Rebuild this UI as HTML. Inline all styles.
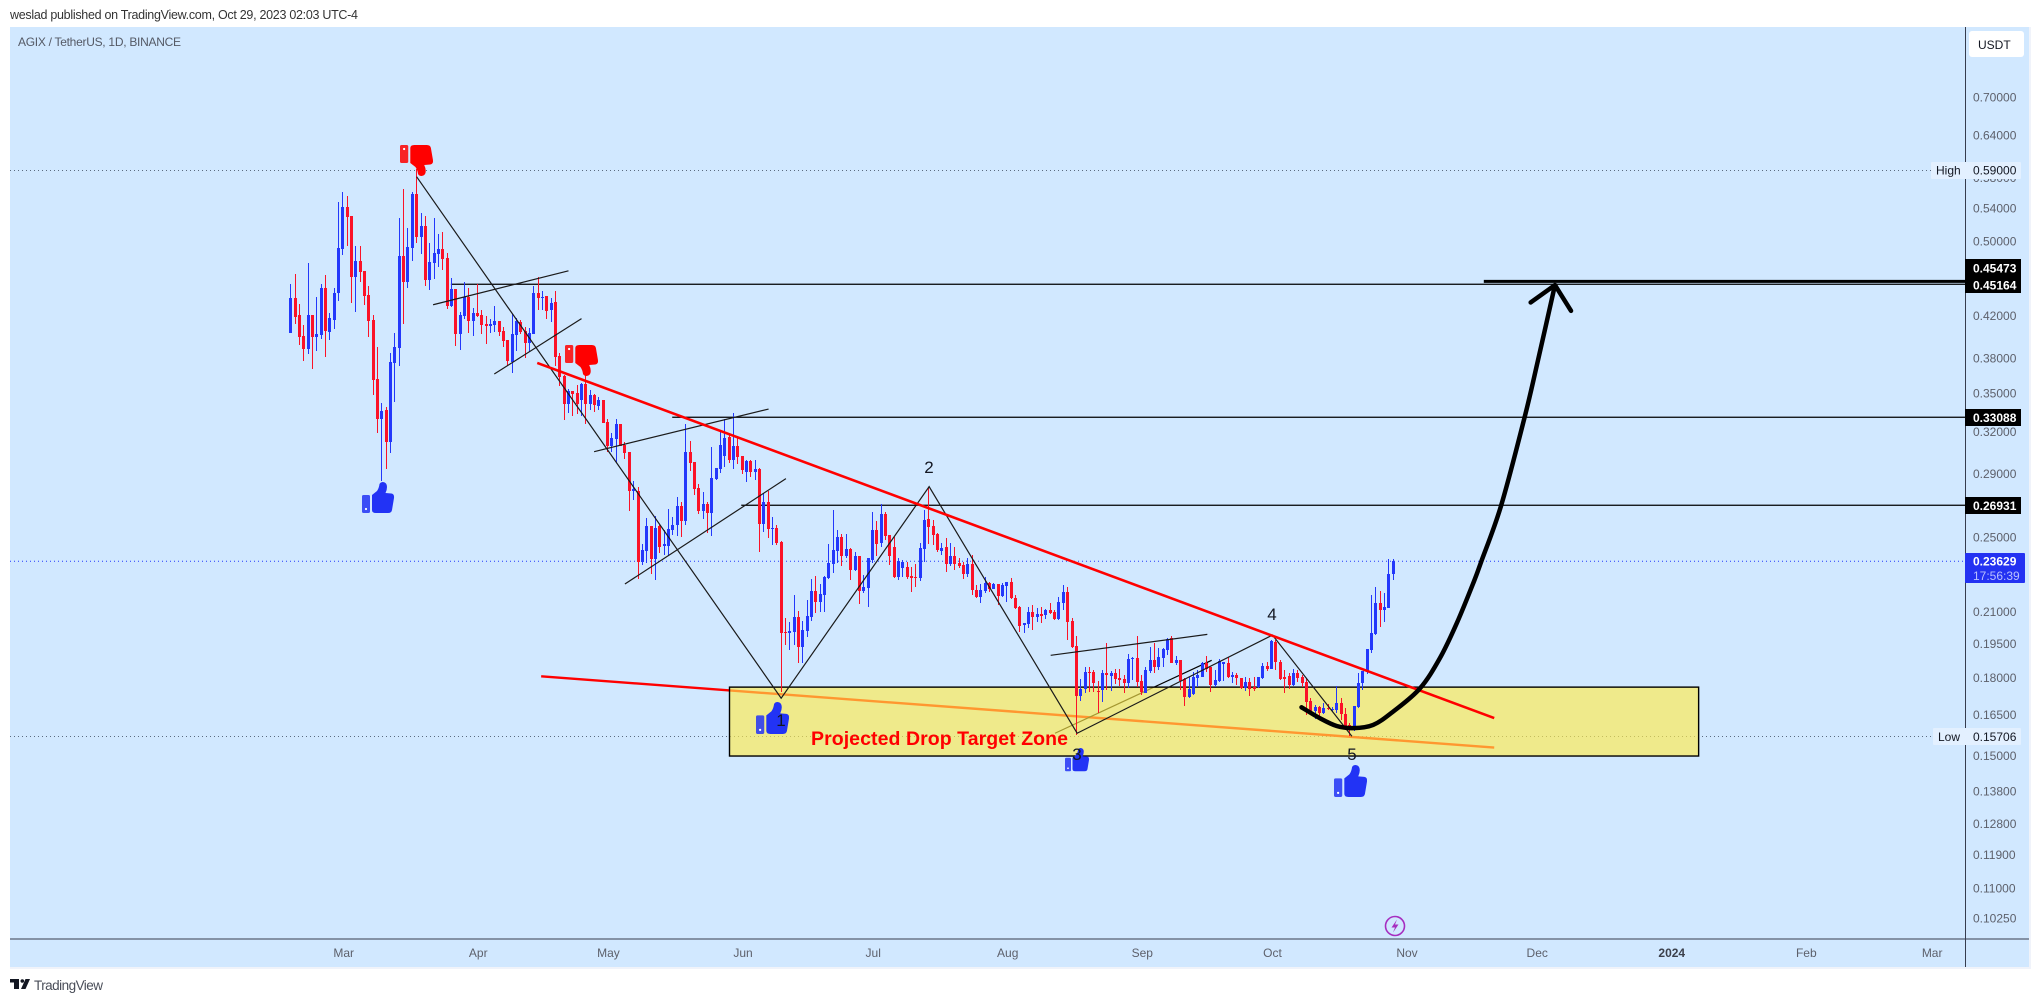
<!DOCTYPE html>
<html lang="en">
<head>
<meta charset="utf-8">
<title>AGIX / TetherUS chart</title>
<style>
html,body{margin:0;padding:0;background:#fff;width:2039px;height:1002px;overflow:hidden}
svg{display:block;font-family:"Liberation Sans",sans-serif}
</style>
</head>
<body>
<svg id="chart" xmlns="http://www.w3.org/2000/svg" width="2039" height="1002" viewBox="0 0 2039 1002">
  <defs>
    <symbol id="thumb-shape" viewBox="0 0 32 32" overflow="visible">
      <rect x="0" y="13" width="8" height="18" rx="1.5" fill="currentColor" opacity="0.85"/>
      <circle cx="4" cy="27" r="1.1" fill="#fff"/>
      <path d="M10 13 L15 9 Q17 6 17.5 2 Q18.5 0 21 0 Q25 0.5 25 5 Q25 8 23.5 11 L29.5 11.5 Q32.5 12 32 16 L30 28 Q29.5 31 26 31 L14 31 Q10 31 10 28 Z" fill="currentColor"/>
    </symbol>
  </defs>
  <rect x="10" y="27" width="2019" height="940" fill="#d1e8ff"/>
  <rect x="2029" y="27" width="2" height="940" fill="#f0f3fa"/>
  <rect x="10" y="967" width="2021" height="2" fill="#f0f3fa"/>
  <g id="guides"></g>
  <g id="under-zone"></g>
  <g id="zone-layer"></g>
  <g id="candles"></g>
  <g id="drawings"></g>

  <g color="#ff0000" transform="translate(400,176) scale(1.03,-1)"><use href="#thumb-shape" width="32" height="32"/></g>
  <g color="#ff0000" transform="translate(565,376) scale(1.03,-1)"><use href="#thumb-shape" width="32" height="32"/></g>
  <g color="#2233f5" transform="translate(362,482)"><use href="#thumb-shape" width="32" height="32"/></g>
  <g color="#2233f5" transform="translate(756,702)"><use href="#thumb-shape" width="33" height="33"/></g>
  <g color="#2233f5" transform="translate(1065,748)"><use href="#thumb-shape" width="24" height="24"/></g>
  <g color="#2233f5" transform="translate(1334,765)"><use href="#thumb-shape" width="33" height="33"/></g>

  <g font-size="17" fill="#131722" text-anchor="middle">
    <text x="781" y="726">1</text>
    <text x="929" y="473">2</text>
    <text x="1077" y="760">3</text>
    <text x="1272" y="620">4</text>
    <text x="1352" y="760">5</text>
  </g>
  <text x="811" y="745" font-size="19.5" font-weight="bold" fill="#ff0000" textLength="257" lengthAdjust="spacing">Projected Drop Target Zone</text>

  <text x="10" y="19" font-size="12.5" fill="#333" textLength="348" lengthAdjust="spacing">weslad published on TradingView.com, Oct 29, 2023 02:03 UTC-4</text>
  <text x="18" y="46" font-size="12" fill="#555a66" textLength="163" lengthAdjust="spacing">AGIX / TetherUS, 1D, BINANCE</text>

  <g>
    <circle cx="1395" cy="926" r="9.5" fill="none" stroke="#a62ec0" stroke-width="1.6"/>
    <path d="M1397 919.5 L1391.5 927.5 L1395 927.5 L1393 932.5 L1398.5 924.5 L1395 924.5 Z" fill="#a62ec0"/>
  </g>

  <line x1="10" y1="939" x2="2029" y2="939" stroke="#363c4e" stroke-width="1"/>
  <line x1="1965.5" y1="27" x2="1965.5" y2="967" stroke="#363c4e" stroke-width="1"/>
  <g id="price-axis"></g>
  <g id="time-axis"></g>

  <g>
    <rect x="1931" y="162" width="90" height="17" rx="1" fill="#e3f0ff"/>
    <text x="1936" y="174.5" font-size="12" fill="#131722">High</text>
    <text x="1973" y="174.5" font-size="12" fill="#131722">0.59000</text>
  </g>
  <g>
    <rect x="1933" y="728" width="88" height="17" rx="1" fill="#e3f0ff"/>
    <text x="1938" y="741" font-size="12" fill="#131722">Low</text>
    <text x="1973" y="741" font-size="12" fill="#131722">0.15706</text>
  </g>
  <g font-size="12" font-weight="bold" fill="#fff">
    <g><rect x="1965" y="259" width="56" height="18" fill="#000"/><text x="1973" y="272.5">0.45473</text></g>
    <g><rect x="1965" y="276" width="56" height="17" fill="#000"/><text x="1973" y="289.5">0.45164</text></g>
    <g><rect x="1965" y="409" width="56" height="17" fill="#000"/><text x="1973" y="422">0.33088</text></g>
    <g><rect x="1965" y="497" width="56" height="17" fill="#000"/><text x="1973" y="510">0.26931</text></g>
    <g>
      <rect x="1965" y="553" width="60" height="30" rx="1" fill="#2432f2"/>
      <text x="1973" y="565.5">0.23629</text>
      <text x="1973" y="580" font-weight="normal" fill="#b9c0fd">17:56:39</text>
    </g>
  </g>
  <g>
    <rect x="1969" y="31" width="55" height="26" rx="3" fill="#fff"/>
    <text x="1978" y="49" font-size="12" fill="#131722">USDT</text>
  </g>

  <g>
    <path d="M10 979 H19 V989 H14 V982.5 H10 Z" fill="#131722"/>
    <circle cx="22.3" cy="981" r="1.8" fill="#131722"/>
    <path d="M25.5 979 H30 L25.5 989 H21 Z" fill="#131722"/>
    <text x="34" y="990" font-size="13.5" fill="#4a4e59" textLength="69" lengthAdjust="spacing">TradingView</text>
  </g>
</svg>
<script>
const opens=[.4032,.4377,.4203,.4001,.3882,.4203,.3995,.4011,.4480,.4042,.4154,.4422,.4905,.5411,.5298,.4597,.4769,.4658,.4405,.4154,.3619,.3295,.3365,.3122,.3757,.3891,.4824,.4540,.4917,.5578,.5044,.5176,.4561,.4746,.4848,.4905,.4802,.4292,.4470,.4020,.4193,.4381,.4144,.4223,.4200,.4116,.4100,.4106,.4144,.4049,.3964,.3766,.4011,.4135,.4049,.3933,.4020,.4425,.4373,.4394,.4252,.4333,.3819,.3644,.3413,.3519,.3502,.3445,.3577,.3413,.3486,.3395,.3445,.3272,.3094,.3144,.3256,.3101,.3050,.2784,.2784,.2360,.2420,.2566,.2375,.2566,.2449,.2449,.2542,.2572,.2688,.2596,.3051,.2980,.2804,.2657,.2701,.2645,.2864,.2932,.3022,.3159,.2994,.3094,.3022,.2911,.2987,.2911,.2932,.2578,.2713,.2548,.2554,.2471,.2003,.1998,.2003,.2074,.1933,.2007,.2074,.2204,.2148,.2183,.2272,.2347,.2420,.2501,.2391,.2432,.2315,.2391,.2204,.2219,.2369,.2542,.2466,.2638,.2512,.2443,.2275,.2326,.2331,.2282,.2279,.2272,.2432,.2608,.2566,.2518,.2421,.2443,.2347,.2391,.2353,.2342,.2293,.2347,.2209,.2175,.2204,.2244,.2214,.2238,.2178,.2230,.2250,.2170,.2121,.2034,.2040,.2098,.2075,.2088,.2085,.2108,.2098,.2064,.2144,.2199,.2054,.1938,.1724,.1751,.1824,.1825,.1745,.1748,.1819,.1808,.1819,.1798,.1794,.1777,.1879,.1884,.1786,.1737,.1828,.1875,.1845,.1884,.1920,.1974,.1862,.1875,.1793,.1720,.1732,.1798,.1804,.1862,.1845,.1769,.1786,.1858,.1862,.1803,.1811,.1797,.1756,.1781,.1760,.1760,.1798,.1849,.1836,.1956,.1866,.1803,.1807,.1769,.1819,.1803,.1781,.1704,.1664,.1680,.1656,.1676,.1668,.1668,.1695,.1652,.1611,.1592,.1680,.1776,.1824,.1920,.1993,.2141,.2108,.2118,.2293];
const highs=[.4519,.4626,.4313,.4106,.4743,.4203,.4387,.4519,.4615,.4225,.4474,.5475,.5604,.5552,.5298,.4940,.4940,.4658,.4498,.4203,.3900,.3418,.3386,.3843,.4026,.5270,.5639,.5147,.5604,.5910,.5331,.5298,.4970,.5273,.5079,.5100,.4856,.4583,.4470,.4235,.4540,.4474,.4272,.4519,.4252,.4193,.4161,.4292,.4144,.4090,.3964,.4213,.4177,.4154,.4090,.4077,.4498,.4594,.4446,.4394,.4370,.4443,.3848,.3652,.3532,.3519,.3568,.3587,.3652,.3527,.3494,.3472,.3445,.3295,.3186,.3295,.3256,.3124,.3050,.2852,.2813,.2460,.2612,.2566,.2626,.2572,.2542,.2669,.2622,.2743,.2713,.3256,.3130,.2980,.2831,.2778,.2713,.3086,.2939,.3211,.3293,.3174,.3339,.3167,.3022,.2994,.2994,.2994,.2939,.2769,.2784,.2622,.2572,.2475,.2069,.2050,.2183,.2103,.2054,.2158,.2266,.2282,.2240,.2282,.2460,.2663,.2542,.2518,.2518,.2437,.2415,.2391,.2288,.2380,.2650,.2596,.2701,.2650,.2512,.2501,.2380,.2369,.2358,.2331,.2347,.2466,.2663,.2811,.2602,.2526,.2466,.2495,.2463,.2445,.2378,.2360,.2378,.2397,.2235,.2240,.2275,.2252,.2247,.2238,.2244,.2252,.2270,.2183,.2128,.2046,.2124,.2131,.2118,.2121,.2111,.2141,.2108,.2171,.2235,.2223,.2067,.1983,.1793,.1843,.1843,.1832,.1784,.1832,.1950,.1826,.1838,.1838,.1811,.1902,.1890,.1983,.1811,.1843,.1932,.1950,.1927,.1927,.1973,.1983,.1893,.1875,.1797,.1804,.1825,.1832,.1868,.1893,.1846,.1832,.1878,.1868,.1890,.1825,.1818,.1797,.1804,.1797,.1804,.1804,.1860,.1868,.1965,.1965,.1875,.1832,.1818,.1838,.1832,.1811,.1797,.1715,.1688,.1684,.1695,.1692,.1681,.1765,.1715,.1675,.1617,.1684,.1818,.1829,.1923,.2183,.2226,.2202,.2195,.2373,.2373];
const lows=[.4032,.4116,.3918,.3777,.3837,.3706,.3867,.3973,.3812,.3964,.4068,.4343,.4836,.4940,.4325,.4235,.4543,.4302,.3995,.3486,.3190,.2852,.2932,.3045,.3431,.3730,.4116,.4480,.4769,.4970,.4848,.4498,.4456,.4572,.4699,.4669,.4262,.4285,.3909,.3873,.4161,.4032,.4001,.4186,.4020,.3927,.4026,.4039,.4001,.3903,.3730,.3672,.3864,.4020,.3798,.3857,.4020,.4252,.4252,.4161,.4135,.3730,.3560,.3287,.3339,.3318,.3334,.3318,.3256,.3365,.3350,.3365,.3264,.3053,.3053,.2971,.3094,.2999,.2657,.2726,.2266,.2342,.2354,.2293,.2261,.2407,.2397,.2397,.2512,.2506,.2502,.2572,.2918,.2758,.2638,.2608,.2526,.2506,.2857,.2903,.2948,.2975,.2932,.2966,.2898,.2846,.2875,.2857,.2414,.2530,.2495,.2454,.2454,.1741,.1942,.1920,.1942,.1862,.1862,.1980,.2054,.2095,.2098,.2098,.2266,.2297,.2351,.2336,.2378,.2261,.2309,.2138,.2192,.2123,.2351,.2391,.2445,.2483,.2342,.2272,.2261,.2279,.2266,.2199,.2223,.2256,.2358,.2460,.2454,.2415,.2397,.2304,.2336,.2315,.2324,.2266,.2279,.2183,.2167,.2144,.2195,.2200,.2213,.2133,.2175,.2149,.2161,.2111,.2003,.1997,.2020,.2012,.2051,.2043,.2064,.2088,.2059,.2059,.2108,.1965,.1927,.1574,.1705,.1735,.1741,.1741,.1658,.1700,.1748,.1744,.1773,.1765,.1735,.1755,.1790,.1762,.1728,.1735,.1821,.1818,.1832,.1843,.1897,.1860,.1853,.1748,.1684,.1715,.1728,.1760,.1801,.1825,.1741,.1760,.1783,.1784,.1798,.1778,.1769,.1751,.1745,.1724,.1745,.1756,.1795,.1829,.1835,.1832,.1790,.1737,.1752,.1765,.1781,.1762,.1649,.1649,.1633,.1640,.1652,.1668,.1661,.1655,.1630,.1592,.1570,.1588,.1676,.1748,.1815,.1905,.1988,.2027,.2051,.2118,.2261];
const closes=[.4376,.4186,.3995,.3882,.4203,.3995,.4020,.4480,.4051,.4177,.4428,.4917,.5411,.5286,.4597,.4769,.4651,.4397,.4147,.3610,.3295,.3357,.3122,.3766,.3900,.4824,.4540,.4927,.5578,.5044,.5176,.4561,.4758,.4859,.4905,.4791,.4292,.4470,.4020,.4203,.4381,.4144,.4223,.4193,.4106,.4100,.4116,.4144,.4039,.3958,.3774,.4020,.4144,.4039,.3933,.4030,.4425,.4373,.4384,.4242,.4323,.3810,.3638,.3413,.3519,.3494,.3413,.3577,.3413,.3486,.3403,.3445,.3264,.3094,.3152,.3256,.3094,.3043,.2784,.2798,.2360,.2426,.2566,.2375,.2554,.2443,.2460,.2548,.2572,.2688,.2596,.3051,.2973,.2798,.2657,.2701,.2645,.2871,.2939,.3101,.3152,.2994,.3094,.3015,.2925,.2987,.2911,.2932,.2578,.2713,.2548,.2554,.2463,.1998,.1998,.2007,.2074,.1933,.2012,.2079,.2205,.2148,.2188,.2277,.2353,.2426,.2501,.2391,.2432,.2315,.2391,.2204,.2225,.2380,.2542,.2460,.2638,.2506,.2391,.2275,.2364,.2358,.2277,.2272,.2273,.2437,.2602,.2560,.2512,.2426,.2437,.2347,.2391,.2347,.2336,.2293,.2347,.2209,.2175,.2209,.2244,.2213,.2240,.2178,.2235,.2250,.2167,.2116,.2032,.2043,.2098,.2075,.2087,.2079,.2108,.2093,.2064,.2148,.2199,.2051,.1935,.1724,.1751,.1824,.1821,.1778,.1741,.1819,.1811,.1821,.1794,.1790,.1777,.1879,.1884,.1781,.1741,.1832,.1875,.1846,.1888,.1924,.1970,.1862,.1875,.1786,.1720,.1752,.1803,.1811,.1862,.1836,.1769,.1790,.1870,.1866,.1803,.1811,.1798,.1756,.1781,.1752,.1752,.1803,.1849,.1836,.1960,.1866,.1794,.1794,.1769,.1819,.1798,.1777,.1700,.1660,.1680,.1656,.1676,.1671,.1673,.1695,.1651,.1607,.1591,.1684,.1777,.1826,.1923,.1997,.2141,.2108,.2121,.2293,.2363];

const priceTicks=[0.7,0.64,0.58,0.54,0.5,0.46,0.42,0.38,0.35,0.32,0.29,0.25,0.21,0.195,0.18,0.165,0.15,0.138,0.128,0.119,0.11,0.1025];
const timeLabels=['Mar','Apr','May','Jun','Jul','Aug','Sep','Oct','Nov','Dec','2024','Feb','Mar'];
const timeLabelDays=[13,44,74,105,135,166,197,227,258,288,319,350,379];

const highPrice=0.59;
const lowPrice=0.15706;
const lastPrice=0.23629;
const levelPrices=[0.45164,0.33088,0.26931,0.45473];
const levelStartDays=[37,88,103.9,275];
const zigzagDays=[29.1,113.1,147.2,181.3,226.3,244.6];
const zigzagPrices=[.5808,.1715,.2813,.1580,.1988,.1569];
const channelStartDays=[32.9,47,70,77.1,175.2];
const channelStartPrices=[.4305,.3661,.3053,.2240,.1896];
const channelEndDays=[64.1,67.1,110.2,114.2,211.3];
const channelEndPrices=[.4661,.4167,.3373,.2866,.1991];
const risingLineDays=[176.2,212.3];
const risingLinePrices=[.1580,.1874];
const resistanceDays=[56.9,277.4];
const resistancePrices=[.3757,.1637];
const supportDays=[57.8,277.4];
const supportPrices=[.1805,.1528];
const zoneDays=[101.2,324.5];
const zonePrices=[.1760,.1498];
const curveDays=[233,237.3,241.1,244.9,249.5,254.1,260.3,264.9,268.8,272.7,274.4,279,284.4,287.5,291.4];
const curvePrices=[.1679,.1636,.1607,.1599,.1611,.1662,.1755,.1884,.2045,.2252,.2360,.2692,.3308,.3783,.4508];
const arrowHeadDays=[285.8,291.4,295.1];
const arrowHeadPrices=[.4328,.4508,.4244];

const NS='http://www.w3.org/2000/svg';
function xOf(day){return 290.3+4.34*day;}
function yOf(price){return 170+427.5*Math.log(0.59/price);}
function mk(tag,attrs,parent){
  const el=document.createElementNS(NS,tag);
  for(const k in attrs){el.setAttribute(k,attrs[k]);}
  parent.appendChild(el);
  return el;
}
const guides=document.getElementById('guides');
const underZone=document.getElementById('under-zone');
const zoneLayer=document.getElementById('zone-layer');
const candleLayer=document.getElementById('candles');
const drawings=document.getElementById('drawings');
const priceAxis=document.getElementById('price-axis');
const timeAxis=document.getElementById('time-axis');

function segment(parent,d1,p1,d2,p2,stroke,width){
  return mk('line',{x1:xOf(d1),y1:yOf(p1),x2:xOf(d2),y2:yOf(p2),stroke:stroke,'stroke-width':width},parent);
}
function catmull(days,prices){
  const pts=days.map((d,i)=>[xOf(d),yOf(prices[i])]);
  let d='M'+pts[0][0]+' '+pts[0][1];
  for(let i=0;i<pts.length-1;i++){
    const p0=pts[Math.max(0,i-1)],p1=pts[i],p2=pts[i+1],p3=pts[Math.min(pts.length-1,i+2)];
    const c1x=p1[0]+(p2[0]-p0[0])/6,c1y=p1[1]+(p2[1]-p0[1])/6;
    const c2x=p2[0]-(p3[0]-p1[0])/6,c2y=p2[1]-(p3[1]-p1[1])/6;
    d+=' C'+c1x+' '+c1y+' '+c2x+' '+c2y+' '+p2[0]+' '+p2[1];
  }
  return d;
}

/* dotted price guides */
const highLine=mk('line',{x1:10,x2:1931,y1:yOf(highPrice)+0.5,y2:yOf(highPrice)+0.5,stroke:'#5b6b80','stroke-width':1,'stroke-dasharray':'1 3'},guides);


const lowLine=mk('line',{x1:10,x2:1933,y1:736.5,y2:736.5,stroke:'#5b6b80','stroke-width':1,'stroke-dasharray':'1 3'},guides);


const lastLine=mk('line',{x1:10,x2:1965,y1:yOf(lastPrice),y2:yOf(lastPrice),stroke:'#2338fb','stroke-width':1,'stroke-dasharray':'1 3'},guides);



/* horizontal levels */
levelPrices.forEach(function(p,i){
  const thick=i===3;
  const ln=mk('line',{x1:xOf(levelStartDays[i]),x2:1965,y1:yOf(p),y2:yOf(p),stroke:'#000','stroke-width':thick?3:1.2},guides);
  
  
});

/* lines that sit beneath the translucent zone */
const supportLine=segment(underZone,supportDays[0],supportPrices[0],supportDays[1],supportPrices[1],'#ff0000',2.4);


const risingLine=segment(underZone,risingLineDays[0],risingLinePrices[0],risingLineDays[1],risingLinePrices[1],'#000',1.2);



/* target zone */
const zoneX=xOf(zoneDays[0]),zoneY=yOf(zonePrices[0]);
const zone=mk('rect',{x:zoneX,y:zoneY,width:xOf(zoneDays[1])-zoneX,height:yOf(zonePrices[1])-zoneY,fill:'rgb(255,235,75)','fill-opacity':0.643,stroke:'#000','stroke-width':1.4},zoneLayer);



/* candles */
opens.forEach(function(o,i){
  const c=closes[i];
  const col=c>=o?'#2338fb':'#fb1228';
  const cx=Math.round(xOf(i));
  const top=Math.round(yOf(Math.max(o,c))),bot=Math.round(yOf(Math.min(o,c)));
  const g=mk('g',{},candleLayer);
  
  
  const wick=mk('line',{x1:cx+0.5,x2:cx+0.5,y1:Math.round(yOf(highs[i])),y2:Math.round(yOf(lows[i])),stroke:col,'stroke-width':1},g);
  
  
  const body=mk('rect',{x:cx-1,y:top,width:3,height:Math.max(bot-top,1),fill:col},g);
  
  
});

/* zigzag */
const zigzag=mk('polyline',{points:zigzagDays.map((d,i)=>xOf(d)+','+yOf(zigzagPrices[i])).join(' '),fill:'none',stroke:'#1a1a1a','stroke-width':1.2},drawings);



/* channels */
channelStartDays.forEach(function(d,i){
  const ln=segment(drawings,d,channelStartPrices[i],channelEndDays[i],channelEndPrices[i],'#1a1a1a',1.2);
  
  
});

/* resistance */
const resistance=segment(drawings,resistanceDays[0],resistancePrices[0],resistanceDays[1],resistancePrices[1],'#ff0000',2.6);



/* projected curve + head */
const curve=mk('path',{d:catmull(curveDays,curvePrices),fill:'none',stroke:'#000','stroke-width':4.5,'stroke-linecap':'round','stroke-linejoin':'round'},drawings);


const head=mk('polyline',{points:arrowHeadDays.map((d,i)=>xOf(d)+','+yOf(arrowHeadPrices[i])).join(' '),fill:'none',stroke:'#000','stroke-width':4.5,'stroke-linecap':'round','stroke-linejoin':'round'},drawings);



/* axes */
priceTicks.forEach(function(t){
  const tx=mk('text',{x:1973,y:yOf(t)+4.5,'font-size':12,fill:'#5d606b'},priceAxis);
  
  
  tx.textContent=t.toFixed(5);
});
timeLabels.forEach(function(t,i){
  const isYear=t==='2024';
  const tx=mk('text',{x:xOf(timeLabelDays[i])-3,y:957,'font-size':12,'text-anchor':'middle',fill:isYear?'#3c404b':'#5d606b','font-weight':isYear?'bold':'normal'},timeAxis);
  
  
  tx.textContent=t;
});
</script>
</body>
</html>
